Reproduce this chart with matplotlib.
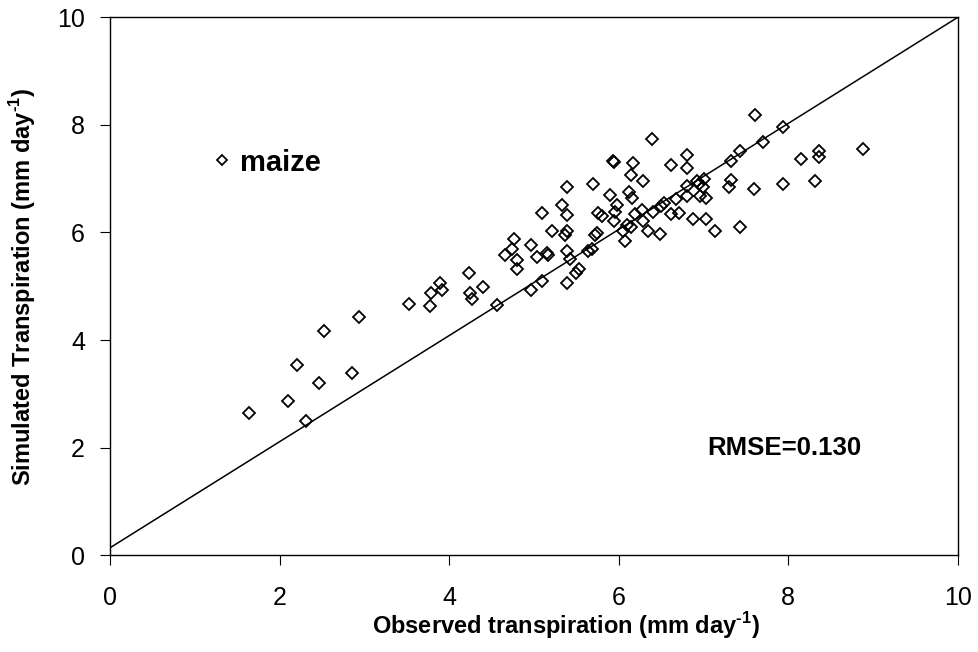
import matplotlib
matplotlib.use("Agg")
from matplotlib import pyplot as plt
import numpy as np

plt.rcParams['font.family'] = ['Liberation Sans', 'DejaVu Sans']
plt.rcParams['mathtext.fontset'] = 'custom'
plt.rcParams['mathtext.rm'] = 'Liberation Sans:bold'
plt.rcParams['mathtext.bf'] = 'Liberation Sans:bold'

# observed vs simulated daily transpiration, mm/day
observed = [1.64, 2.10, 2.21, 2.31, 2.47, 2.52, 2.85, 2.94, 3.53, 3.77,
            3.79, 3.89, 3.92, 4.23, 4.24, 4.27, 4.40, 4.57, 4.66, 4.74,
            4.76, 4.80, 4.80, 4.97, 4.97, 5.04, 5.09, 5.09, 5.15, 5.17,
            5.21, 5.33, 5.39, 5.39, 5.39, 5.37, 5.39, 5.42, 5.39, 5.50,
            5.53, 5.64, 5.68, 5.70, 5.72, 5.74, 5.76, 5.80, 5.90, 5.93,
            5.94, 5.94, 5.96, 5.98, 6.05, 6.07, 6.10, 6.12, 6.15, 6.15,
            6.16, 6.17, 6.19, 6.27, 6.29, 6.29, 6.34, 6.39, 6.41, 6.49,
            6.50, 6.53, 6.62, 6.62, 6.67, 6.71, 6.80, 6.80, 6.81, 6.81,
            6.88, 6.92, 6.95, 6.96, 6.99, 7.01, 7.03, 7.03, 7.14, 7.30,
            7.33, 7.33, 7.43, 7.43, 7.59, 7.61, 7.70, 7.94, 7.94, 8.15,
            8.32, 8.36, 8.36, 8.88]
simulated = [2.64, 2.87, 3.53, 2.49, 3.20, 4.16, 3.39, 4.42, 4.68, 4.64,
             4.87, 5.07, 4.94, 5.25, 4.88, 4.76, 4.98, 4.65, 5.58, 5.69,
             5.88, 5.49, 5.32, 5.77, 4.94, 5.54, 6.36, 5.10, 5.62, 5.58,
             6.02, 6.51, 6.84, 6.33, 6.02, 5.95, 5.66, 5.50, 5.06, 5.24,
             5.32, 5.65, 5.69, 6.91, 5.95, 5.99, 6.37, 6.31, 6.70, 7.33,
             7.31, 6.21, 6.38, 6.51, 6.02, 5.84, 6.13, 6.75, 7.06, 6.11,
             6.65, 7.30, 6.34, 6.41, 6.95, 6.22, 6.03, 7.73, 6.38, 5.98,
             6.50, 6.55, 7.25, 6.35, 6.62, 6.36, 6.68, 6.86, 7.44, 7.20,
             6.25, 6.96, 6.91, 6.67, 6.85, 7.00, 6.65, 6.25, 6.03, 6.84,
             6.97, 7.32, 7.51, 6.10, 6.80, 8.19, 7.69, 7.96, 6.91, 7.36,
             6.96, 7.52, 7.40, 7.55]

# fitted line
fit_slope = 0.986
fit_intercept = 0.14
rmse = 0.130

fig = plt.figure(figsize=(9.79, 6.52), dpi=100)
ax = fig.add_axes([0.1124, 0.1483, 0.866, 0.8252])

ax.plot(observed, simulated, 'D', ms=6.2, mfc='none', mec='black', mew=1.3,
        label='maize', zorder=3)
xl = np.array([0, 10])
ax.plot(xl, fit_intercept + fit_slope * xl, color='black', lw=1.1, zorder=2)

ax.set_xlim(0, 10)
ax.set_ylim(0, 10)
ax.set_xticks(range(0, 11, 2))
ax.set_yticks(range(0, 11, 2))
ax.tick_params(axis='both', direction='out', length=7, width=0.8, labelsize=18)
ax.tick_params(axis='x', pad=15)
ax.tick_params(axis='y', pad=11)
for s in ax.spines.values():
    s.set_linewidth(1.0)

ax.set_xlabel(r'Observed transpiration (mm day$^{\text{-1}}$)', fontsize=17, fontweight='bold')
ax.set_ylabel(r'Simulated Transpiration (mm day$^{\text{-1}}$)', fontsize=17, fontweight='bold')
ax.xaxis.set_label_coords(0.538, -0.101)
ax.yaxis.set_label_coords(-0.085, 0.5)

ax.legend(loc='center left', bbox_to_anchor=(0.123, 0.73), frameon=False,
          numpoints=1, handlelength=0.5, handletextpad=0.38, borderpad=0,
          borderaxespad=0, markerscale=0.8,
          prop={'size': 21, 'weight': 'bold'})

ax.text(7.05, 2.0, f'RMSE={rmse:.3f}', fontsize=18.5, fontweight='bold', va='center')

fig.savefig('out.png', dpi=100)
